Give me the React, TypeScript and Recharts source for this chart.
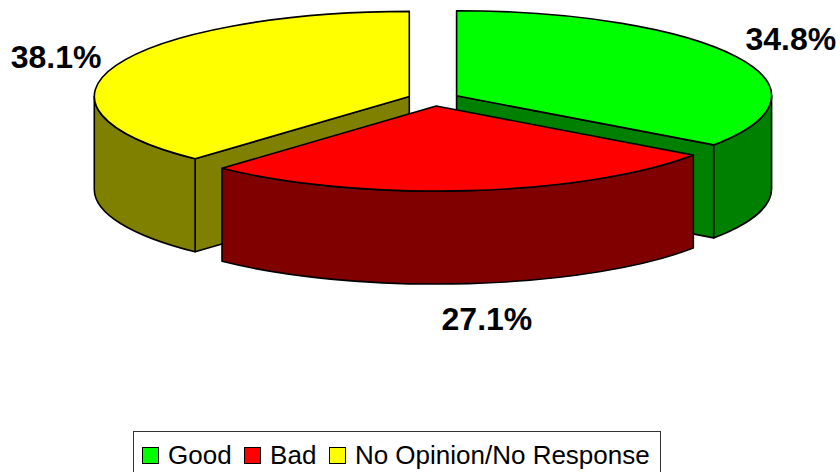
import { Legend, Pie, PieChart } from "recharts";

// drawn back to front: yellow, green, red
const names = ["No Opinion/No Response", "Good", "Bad"];
const values = [38.1, 34.8, 27.1];
const legendOrder = ["Good", "Bad", "No Opinion/No Response"];

const FONT = '"Liberation Sans", Arial, sans-serif';
const SQUASH = 0.27;
const DEPTH = 93;
const EXPLODE = 26;

const colors: Record<string, { top: string; side: string }> = {
  Good: { top: "#00ff00", side: "#008000" },
  Bad: { top: "#ff0000", side: "#800000" },
  "No Opinion/No Response": { top: "#ffff00", side: "#808000" },
};

// label nudges away from the ellipse position
const labelNudge: Record<string, [number, number]> = {
  Good: [2, 1],
  Bad: [12, 124],
  "No Opinion/No Response": [-5, 8],
};

const data = names.map((name, i) => ({ name, value: values[i] }));

// first slice begins at the clockwise position where the other two end
const startAngle = 90 - (360 - values[0] * 3.6);

const rad = (d: number) => (d * Math.PI) / 180;

function Slice3D(props: any) {
  const { cx, cy, outerRadius: r, startAngle: a0, endAngle: a1, name, payload } = props;
  const key = name ?? payload?.name;
  const c = colors[key];
  const mid = rad((a0 + a1) / 2);
  const ox = cx + EXPLODE * Math.cos(mid);
  const oy = cy - EXPLODE * SQUASH * Math.sin(mid);
  const ry = r * SQUASH;
  const px = (a: number) => ox + r * Math.cos(rad(a));
  const py = (a: number) => oy - ry * Math.sin(rad(a));
  const large = Math.abs(a0 - a1) > 180 ? 1 : 0;

  // part of the rim on the lower half of the ellipse
  const rims: [number, number][] = [];
  for (const hi of [360, 0, -360, -720]) {
    const from = Math.min(a0, hi);
    const to = Math.max(a1, hi - 180);
    if (from > to) rims.push([from, to]);
  }

  const wall = (a: number) =>
    `M${ox},${oy} L${px(a)},${py(a)} L${px(a)},${py(a) + DEPTH} L${ox},${oy + DEPTH} Z`;
  const startVisible = Math.sin(rad(a0 + 90)) < -1e-6;
  const endVisible = Math.sin(rad(a1 - 90)) < -1e-6;
  const line = { stroke: "#000", strokeWidth: 1.6, strokeLinejoin: "round" as const };

  return (
    <g>
      {startVisible && <path d={wall(a0)} fill={c.side} {...line} />}
      {endVisible && <path d={wall(a1)} fill={c.side} {...line} />}
      {rims.map(([f, t]) => (
        <path
          key={f}
          d={`M${px(f)},${py(f)} A${r},${ry} 0 0 1 ${px(t)},${py(t)} L${px(t)},${py(t) + DEPTH} A${r},${ry} 0 0 0 ${px(f)},${py(f) + DEPTH} Z`}
          fill={c.side}
          {...line}
        />
      ))}
      <path
        d={`M${ox},${oy} L${px(a0)},${py(a0)} A${r},${ry} 0 ${large} 1 ${px(a1)},${py(a1)} Z`}
        fill={c.top}
        {...line}
      />
    </g>
  );
}

function renderLabel(props: any) {
  const { cx, cy, outerRadius: r, midAngle, name, value } = props;
  const [nx, ny] = labelNudge[name];
  const x = cx + r * 1.27 * Math.cos(rad(midAngle)) + nx;
  const y = cy - r * SQUASH * 1.27 * Math.sin(rad(midAngle)) + ny;
  return (
    <text x={x} y={y} textAnchor="middle" fontFamily={FONT} fontWeight="bold" fontSize={32} fill="#000">
      {`${value.toFixed(1)}%`}
    </text>
  );
}

function LegendBox() {
  return (
    <div
      style={{
        boxSizing: "border-box",
        width: 528,
        height: 60,
        border: "1.5px solid #333",
        display: "flex",
        alignItems: "flex-start",
        paddingLeft: 8,
        paddingTop: 8,
        fontFamily: FONT,
        fontSize: 26,
        lineHeight: "30px",
        color: "#000",
        whiteSpace: "nowrap",
      }}
    >
      {legendOrder.map((name) => (
        <span key={name} style={{ display: "flex", alignItems: "flex-start", marginRight: 12.5 }}>
          <span
            style={{
              boxSizing: "border-box",
              width: 17,
              height: 17,
              marginTop: 7,
              marginRight: 9,
              background: colors[name].top,
              border: "1.5px solid #000",
            }}
          />
          {name}
        </span>
      ))}
    </div>
  );
}

export default function App() {
  return (
    <div style={{ position: "absolute", left: 0, top: 0, width: 840, height: 472, overflow: "hidden", background: "#fff" }}>
      <PieChart width={840} height={472} margin={{ top: 0, right: 0, bottom: 0, left: 0 }}>
        <Pie
          data={data}
          dataKey="value"
          nameKey="name"
          cx={433.5}
          cy={99}
          innerRadius={0}
          outerRadius={315}
          startAngle={startAngle}
          endAngle={startAngle - 360}
          paddingAngle={0}
          stroke="none"
          shape={Slice3D}
          label={renderLabel}
          labelLine={false}
          isAnimationActive={false}
        />
        <Legend
          content={<LegendBox />}
          wrapperStyle={{ position: "absolute", left: 133, top: 431, width: 528, height: 60, bottom: "auto" }}
        />
      </PieChart>
    </div>
  );
}
